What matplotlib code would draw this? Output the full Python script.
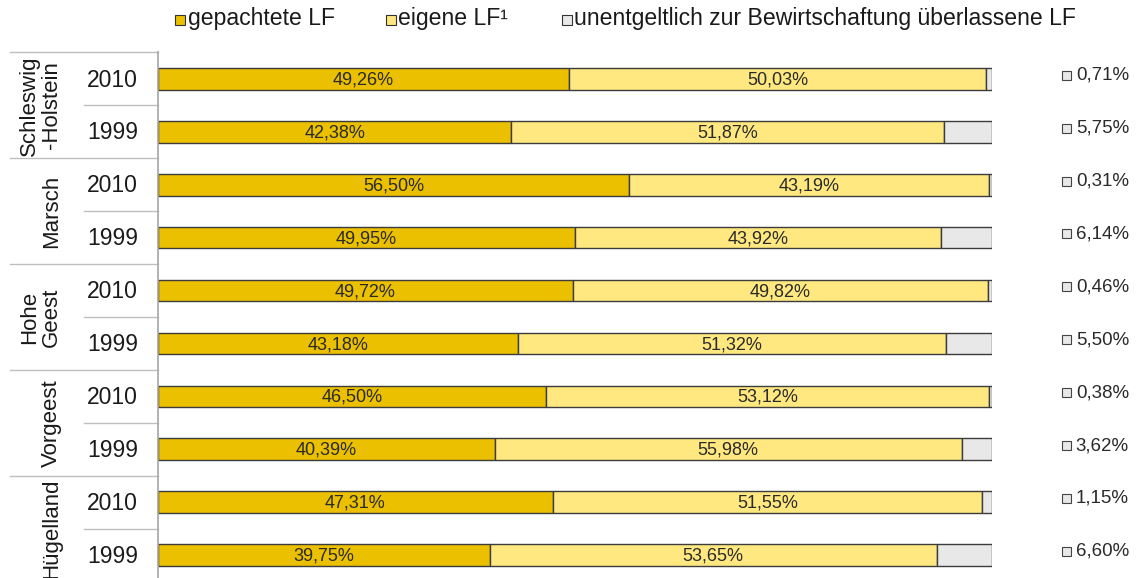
import matplotlib
matplotlib.use("Agg")
import matplotlib.pyplot as plt
from matplotlib.patches import Rectangle

plt.rcParams['font.family'] = ['Liberation Sans', 'DejaVu Sans']

groups = ["Schleswig\n-Holstein", "Marsch", "Hohe\nGeest", "Vorgeest", "Hügelland"]
years = ["2010", "1999"]
gepachtet = [49.26, 42.38, 56.50, 49.95, 49.72, 43.18, 46.50, 40.39, 47.31, 39.75]
eigene = [50.03, 51.87, 43.19, 43.92, 49.82, 51.32, 53.12, 55.98, 51.55, 53.65]
unentgeltlich = [0.71, 5.75, 0.31, 6.14, 0.46, 5.50, 0.38, 3.62, 1.15, 6.60]
series_names = ["gepachtete LF", "eigene LF¹", "unentgeltlich zur Bewirtschaftung überlassene LF"]

c_dark = "#EBC000"
c_light = "#FFE880"
c_gray = "#E8E8E8"
edge = "#3C3C3C"
txt = "#1A1A1A"

W, H = 1139, 578
fig = plt.figure(figsize=(W / 100, H / 100), dpi=100)
ax_left, ax_right, ax_top, ax_bot = 158, 992, 52.5, 578
ax = fig.add_axes([ax_left / W, 1 - ax_bot / H, (ax_right - ax_left) / W, (ax_bot - ax_top) / H])

n = len(gepachtet)
rows = list(range(n))
row_h = 52.9
ax.set_xlim(0, 100)
ax.set_ylim(-0.5 + (ax_bot - ax_top) / row_h, -0.5)

def fmt(v):
    return f"{v:.2f}".replace(".", ",") + "%"

bh = 0.41
ax.barh(rows, gepachtet, height=bh, color=c_dark, edgecolor=edge, linewidth=1.0)
ax.barh(rows, eigene, left=gepachtet, height=bh, color=c_light, edgecolor=edge, linewidth=1.0)
left3 = [a + b for a, b in zip(gepachtet, eigene)]
ax.barh(rows, unentgeltlich, left=left3, height=bh, color=c_gray, edgecolor=edge, linewidth=1.0)

tr = ax.get_yaxis_transform()
for i in rows:
    ax.text(gepachtet[i] / 2, i + 0.02, fmt(gepachtet[i]), ha="center", va="center", fontsize=13, color="#2A2A2A")
    ax.text(gepachtet[i] + eigene[i] / 2, i + 0.02, fmt(eigene[i]), ha="center", va="center", fontsize=13, color="#2A2A2A")
    ax.add_patch(Rectangle((1.0835, i - 0.155), 0.0108, 0.17, transform=tr, facecolor=c_gray,
                           edgecolor="#444444", linewidth=0.8, clip_on=False))
    ax.text(1.1005, i - 0.07, fmt(unentgeltlich[i]), transform=tr, ha="left", va="center",
            fontsize=13.5, color="#2A2A2A", clip_on=False)

for s in ["top", "right", "bottom"]:
    ax.spines[s].set_visible(False)
ax.spines["left"].set_color("#A6A6A6")
ax.spines["left"].set_linewidth(1.2)
ax.set_xticks([])
ax.set_yticks([])

gx0 = (10 - ax_left) / (ax_right - ax_left)
yx0 = (84 - ax_left) / (ax_right - ax_left)
for g in range(len(groups)):
    y = 2 * g - 0.5
    ax.plot([gx0, 0], [y, y], transform=tr, color="#BFBFBF", lw=1.0, clip_on=False)
    ax.plot([yx0, 0], [y + 1, y + 1], transform=tr, color="#BFBFBF", lw=1.0, clip_on=False)
    ax.text((62 - ax_left) / (ax_right - ax_left), 2 * g + 0.5, groups[g], transform=tr,
            rotation=90, ha="right", va="center", fontsize=16, multialignment="center",
            color=txt, linespacing=1.05, clip_on=False)
    for k, yr in enumerate(years):
        ax.text((112.5 - ax_left) / (ax_right - ax_left), 2 * g + k + 0.02, yr, transform=tr,
                ha="center", va="center", fontsize=16.5, color=txt, clip_on=False)

leg_sq = [(175, 188, c_dark), (386, 398, c_light), (562, 574, c_gray)]
for (x, xt, c), name in zip(leg_sq, series_names):
    fig.patches.append(Rectangle((x / W, 1 - 25 / H), 10 / W, 10.5 / H, transform=fig.transFigure,
                                 facecolor=c, edgecolor="#333333", linewidth=0.8))
    fig.text(xt / W, 1 - 19 / H, name, ha="left", va="center", fontsize=16.6, color=txt)

fig.savefig("out.png", dpi=100)
